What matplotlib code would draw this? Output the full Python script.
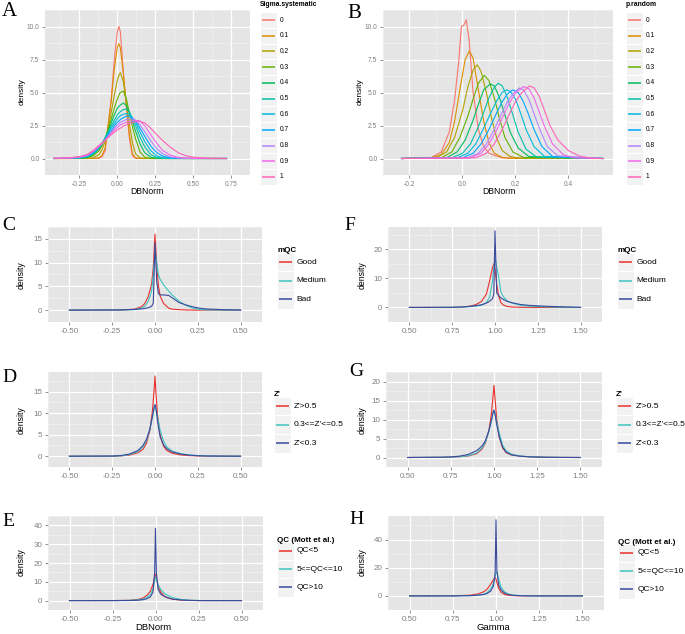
import numpy as np
import matplotlib
matplotlib.use("Agg")
import matplotlib.pyplot as plt
from matplotlib.patches import Rectangle
from matplotlib.lines import Line2D

plt.rcParams['font.family'] = ['Liberation Sans', 'DejaVu Sans']

# ---------------- data ----------------
hue11 = ['#F8766D', '#DB8E00', '#AEA200', '#64B200', '#00BD5C', '#00C1A7',
         '#00BADE', '#00A6FF', '#B385FF', '#EF67EB', '#FF63B6']
levels11 = ['0', '0.1', '0.2', '0.3', '0.4', '0.5', '0.6', '0.7', '0.8', '0.9', '1']

# A: Sigma.systematic, common grid
xa = [-0.42, -0.30, -0.24, -0.20, -0.16, -0.12, -0.10, -0.08, -0.06, -0.04, -0.02, 0.00, 0.01, 0.02,
      0.04, 0.06, 0.08, 0.10, 0.12, 0.15, 0.18, 0.22, 0.26, 0.30, 0.35, 0.40, 0.45, 0.50, 0.60, 0.72]
ya = [
    [0, 0, 0, 0, 0, 0.02, 0.15, 0.6, 2.5, 4.5, 7.5, 9.6, 10.0, 9.6, 6.5, 3.8, 1.5, 0.2, 0.02, 0, 0, 0, 0, 0, 0, 0, 0, 0, 0, 0],
    [0, 0, 0, 0, 0.01, 0.05, 0.25, 0.8, 2.6, 4.4, 6.8, 8.4, 8.7, 8.4, 6.4, 4.0, 1.8, 0.35, 0.05, 0, 0, 0, 0, 0, 0, 0, 0, 0, 0, 0],
    [0, 0, 0, 0.01, 0.05, 0.3, 0.7, 1.3, 2.3, 3.5, 4.8, 5.9, 6.3, 6.5, 5.8, 4.2, 2.6, 1.2, 0.35, 0.05, 0.01, 0, 0, 0, 0, 0, 0, 0, 0, 0],
    [0, 0, 0.01, 0.05, 0.2, 0.6, 1.0, 1.5, 2.2, 3.0, 3.8, 4.5, 4.8, 5.0, 5.1, 4.5, 3.4, 2.4, 1.5, 0.5, 0.1, 0.01, 0, 0, 0, 0, 0, 0, 0, 0],
    [0, 0.01, 0.03, 0.08, 0.3, 0.75, 1.1, 1.6, 2.1, 2.7, 3.3, 3.8, 3.95, 4.05, 4.2, 4.0, 3.5, 2.8, 2.1, 1.1, 0.45, 0.1, 0.02, 0, 0, 0, 0, 0, 0, 0],
    [0, 0.01, 0.05, 0.12, 0.35, 0.8, 1.15, 1.55, 2.0, 2.45, 2.9, 3.3, 3.45, 3.55, 3.7, 3.75, 3.5, 3.0, 2.5, 1.6, 0.9, 0.3, 0.08, 0.02, 0, 0, 0, 0, 0, 0],
    [0, 0.02, 0.07, 0.15, 0.4, 0.85, 1.15, 1.5, 1.9, 2.3, 2.65, 3.0, 3.15, 3.25, 3.35, 3.4, 3.35, 3.1, 2.75, 2.0, 1.3, 0.6, 0.2, 0.06, 0.01, 0, 0, 0, 0, 0],
    [0, 0.03, 0.09, 0.18, 0.45, 0.9, 1.15, 1.45, 1.8, 2.1, 2.45, 2.75, 2.85, 2.95, 3.1, 3.2, 3.2, 3.05, 2.85, 2.3, 1.7, 0.95, 0.45, 0.18, 0.05, 0.01, 0, 0, 0, 0],
    [0, 0.04, 0.11, 0.22, 0.5, 0.9, 1.15, 1.4, 1.7, 2.0, 2.3, 2.55, 2.65, 2.75, 2.85, 2.95, 3.0, 3.0, 2.9, 2.55, 2.05, 1.35, 0.75, 0.35, 0.12, 0.04, 0.01, 0, 0, 0],
    [0.01, 0.05, 0.14, 0.26, 0.55, 0.95, 1.15, 1.4, 1.65, 1.9, 2.15, 2.35, 2.45, 2.55, 2.65, 2.75, 2.8, 2.85, 2.9, 2.85, 2.5, 1.8, 1.15, 0.6, 0.25, 0.09, 0.03, 0.01, 0, 0],
    [0.01, 0.07, 0.17, 0.3, 0.6, 1.0, 1.2, 1.4, 1.6, 1.8, 2.0, 2.15, 2.25, 2.3, 2.45, 2.55, 2.65, 2.72, 2.78, 2.8, 2.7, 2.3, 1.8, 1.35, 0.85, 0.45, 0.22, 0.1, 0.02, 0],
]

# B: p.random, one (x, y) list per level
xb = [
    [-0.23, -0.12, -0.08, -0.05, -0.03, -0.015, -0.004, 0.005, 0.014, 0.025, 0.04, 0.06, 0.08, 0.10, 0.12, 0.15, 0.53],
    [-0.23, -0.12, -0.08, -0.05, -0.03, -0.01, 0.01, 0.026, 0.04, 0.06, 0.08, 0.10, 0.12, 0.15, 0.18, 0.53],
    [-0.23, -0.10, -0.06, -0.03, 0.0, 0.02, 0.04, 0.056, 0.07, 0.09, 0.11, 0.13, 0.15, 0.18, 0.22, 0.53],
    [-0.23, -0.08, -0.04, -0.01, 0.02, 0.04, 0.06, 0.082, 0.10, 0.12, 0.14, 0.16, 0.19, 0.23, 0.53],
    [-0.23, -0.06, -0.02, 0.01, 0.04, 0.06, 0.08, 0.105, 0.12, 0.14, 0.16, 0.18, 0.21, 0.25, 0.53],
    [-0.23, -0.04, 0.0, 0.03, 0.06, 0.08, 0.10, 0.12, 0.135, 0.15, 0.17, 0.19, 0.21, 0.24, 0.28, 0.53],
    [-0.23, -0.02, 0.02, 0.05, 0.08, 0.11, 0.13, 0.15, 0.165, 0.18, 0.20, 0.22, 0.24, 0.27, 0.31, 0.53],
    [-0.23, 0.0, 0.04, 0.07, 0.10, 0.13, 0.15, 0.17, 0.19, 0.21, 0.23, 0.25, 0.27, 0.30, 0.34, 0.53],
    [-0.23, 0.02, 0.06, 0.09, 0.12, 0.15, 0.17, 0.19, 0.215, 0.23, 0.25, 0.27, 0.29, 0.32, 0.36, 0.53],
    [-0.23, 0.03, 0.07, 0.10, 0.13, 0.16, 0.18, 0.20, 0.23, 0.25, 0.27, 0.29, 0.31, 0.34, 0.38, 0.42, 0.53],
    [-0.23, 0.05, 0.09, 0.12, 0.15, 0.18, 0.20, 0.22, 0.252, 0.27, 0.29, 0.31, 0.33, 0.36, 0.40, 0.44, 0.48, 0.53],
]
yb = [
    [0, 0.05, 0.5, 2.0, 4.4, 7.2, 10.0, 10.1, 10.5, 9.0, 5.0, 2.2, 0.9, 0.4, 0.25, 0.05, 0],
    [0, 0.03, 0.3, 1.2, 2.8, 5.2, 7.5, 8.15, 7.6, 5.2, 2.8, 1.2, 0.4, 0.08, 0.01, 0],
    [0, 0.05, 0.5, 1.6, 3.6, 5.4, 6.7, 7.1, 6.6, 5.0, 3.0, 1.5, 0.6, 0.15, 0.02, 0],
    [0, 0.05, 0.5, 1.6, 3.2, 4.5, 5.7, 6.3, 5.9, 4.6, 3.0, 1.6, 0.5, 0.08, 0],
    [0, 0.05, 0.5, 1.4, 2.9, 4.1, 5.2, 5.65, 5.5, 4.6, 3.3, 2.0, 0.8, 0.15, 0],
    [0, 0.05, 0.4, 1.1, 2.4, 3.5, 4.6, 5.4, 5.7, 5.5, 4.6, 3.3, 2.0, 0.7, 0.1, 0],
    [0, 0.05, 0.4, 1.1, 2.3, 3.6, 4.4, 5.0, 5.2, 5.1, 4.5, 3.4, 2.2, 0.9, 0.15, 0],
    [0, 0.05, 0.4, 1.1, 2.2, 3.5, 4.3, 4.9, 5.2, 5.0, 4.3, 3.3, 2.2, 0.9, 0.15, 0],
    [0, 0.05, 0.4, 1.1, 2.2, 3.5, 4.3, 4.9, 5.35, 5.2, 4.5, 3.4, 2.3, 0.9, 0.2, 0],
    [0, 0.05, 0.4, 1.1, 2.2, 3.5, 4.3, 4.95, 5.45, 5.3, 4.6, 3.5, 2.4, 1.1, 0.3, 0.05, 0],
    [0, 0.05, 0.4, 1.1, 2.2, 3.5, 4.3, 4.9, 5.5, 5.35, 4.7, 3.6, 2.5, 1.4, 0.6, 0.2, 0.03, 0],
]

col3 = ['#E8302E', '#3EC4C0', '#3A4A9C']

# C: mQC vs DBNorm
xc = [-0.5, -0.2, -0.12, -0.08, -0.06, -0.04, -0.02, -0.01, 0.0, 0.01, 0.02, 0.03, 0.05, 0.08, 0.10,
      0.14, 0.18, 0.22, 0.26, 0.30, 0.40, 0.50]
yc_good = [0, 0.01, 0.2, 0.7, 1.4, 2.8, 5.5, 9.0, 16.0, 9.5, 5.2, 3.0, 1.4, 0.4, 0.2, 0.1, 0.03, 0.01, 0, 0, 0, 0]
yc_med = [0, 0.01, 0.1, 0.4, 0.8, 1.8, 4.0, 7.5, 12.6, 10.0, 7.5, 6.5, 5.3, 4.0, 3.2, 1.9, 1.0, 0.45, 0.15, 0.05, 0.01, 0]
yc_bad = [0, 0.05, 0.15, 0.25, 0.35, 0.5, 0.8, 1.5, 14.2, 6.0, 3.5, 3.2, 3.2, 3.1, 2.6, 1.6, 1.1, 0.7, 0.4, 0.25, 0.1, 0.03]

# F: mQC vs Gamma
xf = [0.5, 0.75, 0.8, 0.85, 0.885, 0.92, 0.95, 0.97, 0.985, 0.993, 1.0, 1.01, 1.02, 1.035, 1.05, 1.07,
      1.1, 1.15, 1.2, 1.3, 1.4, 1.5]
yf_good = [0, 0.02, 0.1, 0.4, 0.9, 2.0, 4.6, 9.5, 13.5, 15.0, 13.0, 8.0, 4.2, 1.6, 0.8, 0.35, 0.15, 0.05, 0.02, 0, 0, 0]
yf_med = [0, 0.02, 0.08, 0.25, 0.45, 0.7, 1.6, 3.8, 9.0, 13.5, 17.0, 14.0, 11.0, 5.2, 3.6, 2.3, 1.5, 0.7, 0.45, 0.2, 0.08, 0.02]
yf_bad = [0, 0.05, 0.15, 0.35, 0.6, 0.9, 1.5, 2.2, 3.0, 4.5, 26.3, 5.0, 4.2, 3.2, 2.7, 2.1, 1.6, 1.0, 0.7, 0.4, 0.2, 0.03]

# D: Z' vs DBNorm
xd = [-0.5, -0.25, -0.2, -0.15, -0.1, -0.07, -0.05, -0.03, -0.015, -0.005, 0, 0.005, 0.015, 0.03, 0.05,
      0.07, 0.1, 0.15, 0.2, 0.25, 0.3, 0.4, 0.5]
yd_hi = [0, 0.02, 0.08, 0.25, 0.8, 1.6, 3.0, 6.0, 10.5, 15.5, 18.6, 15.0, 9.5, 5.0, 2.3, 1.3, 0.7, 0.3, 0.15, 0.07, 0.03, 0.01, 0]
yd_mid = [0, 0.03, 0.1, 0.35, 1.1, 2.2, 3.6, 6.2, 9.0, 11.0, 11.5, 11.0, 9.0, 6.0, 3.5, 2.1, 1.2, 0.6, 0.3, 0.15, 0.08, 0.02, 0]
yd_lo = [0, 0.04, 0.15, 0.5, 1.3, 2.5, 3.9, 6.3, 9.2, 11.5, 12.0, 11.2, 8.0, 4.5, 2.6, 1.7, 1.0, 0.5, 0.25, 0.12, 0.06, 0.02, 0]

# G: Z' vs Gamma
xg = [0.5, 0.7, 0.75, 0.8, 0.85, 0.9, 0.93, 0.95, 0.97, 0.985, 0.995, 1.0, 1.005, 1.015, 1.03, 1.05,
      1.07, 1.1, 1.15, 1.2, 1.3, 1.4, 1.5]
yg_hi = [0, 0.05, 0.1, 0.2, 0.4, 1.0, 2.2, 3.8, 7.0, 11.5, 16.5, 19.0, 16.0, 10.5, 5.5, 2.5, 1.3, 0.7, 0.35, 0.2, 0.07, 0.02, 0]
yg_mid = [0, 0.05, 0.1, 0.2, 0.45, 1.2, 2.5, 4.0, 6.8, 9.5, 11.8, 12.3, 11.8, 9.5, 6.5, 3.2, 1.8, 0.9, 0.4, 0.2, 0.07, 0.02, 0]
yg_lo = [0, 0.08, 0.15, 0.35, 0.8, 1.8, 3.0, 4.4, 7.0, 9.8, 12.0, 12.5, 11.6, 8.8, 5.5, 2.7, 1.4, 0.7, 0.35, 0.18, 0.06, 0.02, 0]

# E: QC (Mott et al.) vs DBNorm
xe = [-0.5, -0.25, -0.15, -0.1, -0.07, -0.05, -0.03, -0.015, -0.005, 0, 0.005, 0.015, 0.03, 0.05, 0.07,
      0.1, 0.15, 0.2, 0.25, 0.3, 0.5]
ye_lo = [0, 0.02, 0.15, 0.6, 1.5, 2.8, 5.0, 8.5, 12.5, 14.0, 12.0, 8.0, 4.6, 2.5, 1.5, 0.7, 0.25, 0.08, 0.02, 0, 0]
ye_mid = [0, 0.02, 0.1, 0.4, 0.9, 1.7, 3.2, 6.0, 10.5, 12.5, 11.5, 8.5, 6.0, 4.0, 2.8, 1.6, 0.6, 0.2, 0.05, 0.01, 0]
ye_hi = [0, 0.01, 0.05, 0.2, 0.5, 1.0, 2.0, 4.5, 15.0, 38.5, 15.0, 6.0, 3.5, 2.3, 1.5, 0.8, 0.3, 0.1, 0.03, 0.01, 0]

# H: QC (Mott et al.) vs Gamma
xh = [0.5, 0.75, 0.85, 0.9, 0.93, 0.95, 0.97, 0.985, 0.995, 1.0, 1.005, 1.015, 1.03, 1.05, 1.07, 1.1,
      1.15, 1.2, 1.3, 1.5]
yh_lo = [0, 0.05, 0.5, 1.5, 3.0, 5.0, 8.5, 11.5, 13.0, 12.0, 9.5, 5.5, 2.5, 1.0, 0.5, 0.2, 0.05, 0.02, 0, 0]
yh_mid = [0, 0.02, 0.2, 0.6, 1.3, 2.5, 5.0, 9.0, 14.0, 16.5, 17.0, 12.0, 6.0, 2.8, 1.4, 0.6, 0.2, 0.08, 0.02, 0]
yh_hi = [0, 0.02, 0.15, 0.5, 1.0, 1.8, 3.5, 7.0, 16.0, 54.0, 18.0, 8.0, 4.0, 2.0, 1.0, 0.4, 0.1, 0.03, 0.01, 0]

mqc_labels = ['Good', 'Medium', 'Bad']
z_labels = ["Z'>0.5", "0.3<=Z'<=0.5", "Z'<0.3"]
qc_labels = ['QC<5', '5<=QC<=10', 'QC>10']

# ---------------- drawing ----------------
W, H = 685, 634
fig = plt.figure(figsize=(W / 100, H / 100), dpi=100)
TICK = '#7F7F7F'


def fx(x):
    return x / W


def fy(y):
    return 1 - y / H


def gg_axes(box, xticks, xlabs, yticks, ylabs, xr, yr, fs):
    l, t, r, b = box
    ax = fig.add_axes([fx(l), fy(b), (r - l) / W, (b - t) / H])
    ax.set_facecolor('#E5E5E5')
    sx = xr[1] - xr[0]
    sy = yr[1] - yr[0]
    ax.set_xlim(xr[0] - 0.05 * sx, xr[1] + 0.05 * sx)
    ax.set_ylim(yr[0] - 0.05 * sy, yr[1] + 0.05 * sy)
    ax.set_xticks(xticks)
    ax.set_xticklabels(xlabs)
    ax.set_yticks(yticks)
    ax.set_yticklabels(ylabs)
    dx = xticks[1] - xticks[0]
    dy = yticks[1] - yticks[0]
    mx = np.arange(xticks[0] - dx / 2, xticks[-1] + dx, dx)
    my = np.arange(yticks[0] - dy / 2, yticks[-1] + dy, dy)
    ax.set_xticks(mx, minor=True)
    ax.set_yticks(my, minor=True)
    ax.grid(which='major', color='white', lw=0.9)
    ax.grid(which='minor', color='#F2F2F2', lw=0.45)
    ax.tick_params(which='minor', length=0)
    ax.tick_params(which='major', length=2.5, width=0.6, color=TICK, labelcolor=TICK,
                   labelsize=fs, pad=1.5)
    for s in ax.spines.values():
        s.set_visible(False)
    ax.set_axisbelow(True)
    return ax


def gg_legend(x, ytitle, ykey, step, title, labels, colors, fst, fsl, kw=17):
    fig.text(fx(x), fy(ytitle), title, fontsize=fst, fontweight='bold', va='center', ha='left')
    for i, (lab, c) in enumerate(zip(labels, colors)):
        yc = ykey + i * step
        fig.add_artist(Rectangle((fx(x), fy(yc + step / 2)), kw / W, step / H,
                                 transform=fig.transFigure, facecolor='#F2F2F2',
                                 edgecolor='white', lw=0.8, zorder=1))
        fig.add_artist(Line2D([fx(x + 2), fx(x + kw - 2)], [fy(yc), fy(yc)],
                              transform=fig.transFigure, color=c, lw=1.1,
                              solid_capstyle='butt', zorder=3))
        fig.text(fx(x + kw + 2.5), fy(yc), lab, fontsize=fsl, va='center', ha='left')


def letter(x, y, s, size=14):
    fig.text(fx(x), fy(y), s, fontsize=size, family='Liberation Serif', va='center', ha='left')


def ylab(x, y, fs):
    fig.text(fx(x), fy(y), 'density', fontsize=fs, rotation=90, va='center', ha='center')


# A
ax = gg_axes((45, 10, 250, 175), [-0.25, 0, 0.25, 0.5, 0.75], ['-0.25', '0.00', '0.25', '0.50', '0.75'],
             [0, 2.5, 5, 7.5, 10], ['0.0', '2.5', '5.0', '7.5', '10.0'],
             (min(xa), max(xa)), (0, max(max(c) for c in ya)), 4.8)
for y, c in zip(ya, hue11):
    ax.plot(xa, y, color=c, lw=0.8)
gg_legend(260, 4, 20, 15.7, 'Sigma.systematic', levels11, hue11, 4.9, 4.8)
letter(2, 12, 'A', 15)
ylab(22, 92, 6)
fig.text(fx(147), fy(192), 'DBNorm', fontsize=6.2, ha='center', va='center')

# B
ax = gg_axes((383, 10, 613, 175), [-0.2, 0, 0.2, 0.4], ['-0.2', '0.0', '0.2', '0.4'],
             [0, 2.5, 5, 7.5, 10], ['0.0', '2.5', '5.0', '7.5', '10.0'],
             (-0.23, 0.53), (0, max(max(c) for c in yb)), 4.8)
for x, y, c in zip(xb, yb, hue11):
    ax.plot(x, y, color=c, lw=0.8)
gg_legend(626, 4, 20, 15.7, 'p.random', levels11, hue11, 4.9, 4.8)
letter(347, 14, 'B', 15)
ylab(360, 92, 6)
fig.text(fx(499), fy(192), 'DBNorm', fontsize=6.2, ha='center', va='center')

dbx = [-0.5, -0.25, 0, 0.25, 0.5]
dbl = ['-0.50', '-0.25', '0.00', '0.25', '0.50']
gmx = [0.5, 0.75, 1.0, 1.25, 1.5]
gml = ['0.50', '0.75', '1.00', '1.25', '1.50']
fs3 = 5.8

# C
ax = gg_axes((48, 227, 262, 322), dbx, dbl, [0, 5, 10, 15], ['0', '5', '10', '15'],
             (-0.5, 0.5), (0, max(yc_good)), fs3)
for y, c in zip([yc_good, yc_med, yc_bad], col3):
    ax.plot(xc, y, color=c, lw=0.8)
gg_legend(277, 251, 262, 18.7, 'mQC', mqc_labels, col3, 5.8, 6)
letter(2, 225, 'C', 14)
ylab(21, 275, 6.3)

# F
ax = gg_axes((388, 227, 602, 322), gmx, gml, [0, 10, 20], ['0', '10', '20'],
             (0.5, 1.5), (0, max(yf_bad)), fs3)
for y, c in zip([yf_good, yf_med, yf_bad], col3):
    ax.plot(xf, y, color=c, lw=0.8)
gg_legend(617, 251, 262, 18.7, 'mQC', mqc_labels, col3, 5.8, 6)
letter(344, 226, 'F', 14)
ylab(362, 275, 6.3)

# D
ax = gg_axes((48, 372, 262, 467), dbx, dbl, [0, 5, 10, 15], ['0', '5', '10', '15'],
             (-0.5, 0.5), (0, max(yd_hi)), fs3)
for y, c in zip([yd_hi, yd_mid, yd_lo], col3):
    ax.plot(xd, y, color=c, lw=0.8)
gg_legend(274, 395, 406, 18.7, "Z'", z_labels, col3, 5.8, 6)
letter(2, 377, 'D', 14)
ylab(21, 420, 6.3)

# G
ax = gg_axes((386, 372, 602, 467), gmx, gml, [0, 5, 10, 15, 20], ['0', '5', '10', '15', '20'],
             (0.5, 1.5), (0, max(yg_hi)), fs3)
for y, c in zip([yg_hi, yg_mid, yg_lo], col3):
    ax.plot(xg, y, color=c, lw=0.8)
gg_legend(616, 395, 406, 18.7, "Z'", z_labels, col3, 5.8, 6)
letter(349, 372, 'G', 14)
ylab(362, 420, 6.3)

# E
ax = gg_axes((48, 516, 263, 610), dbx, dbl, [0, 10, 20, 30, 40], ['0', '10', '20', '30', '40'],
             (-0.5, 0.5), (0, max(ye_hi)), fs3)
for y, c in zip([ye_lo, ye_mid, ye_hi], col3):
    ax.plot(xe, y, color=c, lw=0.8)
gg_legend(277, 541, 551, 18.2, 'QC (Mott et al.)', qc_labels, col3, 5.8, 6)
letter(2, 522, 'E', 14)
ylab(21, 562, 6.3)
fig.text(fx(153), fy(627), 'DBNorm', fontsize=6.8, ha='center', va='center')

# H
ax = gg_axes((388, 516, 604, 610), gmx, gml, [0, 20, 40], ['0', '20', '40'],
             (0.5, 1.5), (0, max(yh_hi)), fs3)
for y, c in zip([yh_lo, yh_mid, yh_hi], col3):
    ax.plot(xh, y, color=c, lw=0.8)
gg_legend(618, 542, 553, 18.2, 'QC (Mott et al.)', qc_labels, col3, 5.8, 6)
letter(349, 520, 'H', 14)
ylab(362, 562, 6.3)
fig.text(fx(493), fy(627), 'Gamma', fontsize=6.8, ha='center', va='center')

fig.savefig('out.png', dpi=100)
